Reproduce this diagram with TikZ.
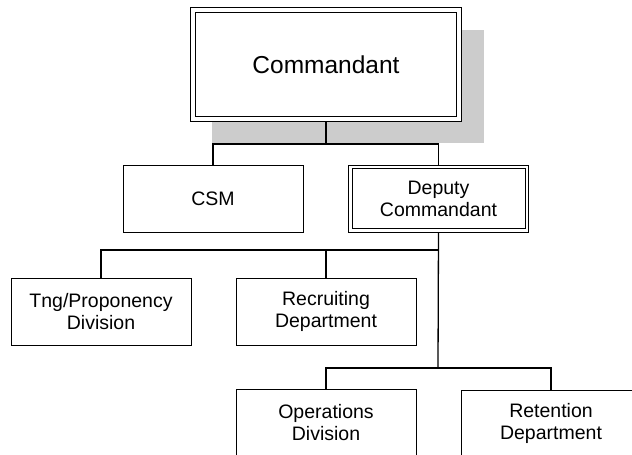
\documentclass[tikz,border=0pt]{standalone}
\usepackage{fontspec}
\setmainfont{Liberation Sans}
\begin{document}
\begin{tikzpicture}[x=1pt,y=-1pt,
  unit/.style={draw=black, line width=1pt, fill=white, minimum width=180pt, minimum height=67pt,
    inner sep=0pt, outer sep=0pt, align=center, font=\fontsize{19.5}{22}\selectfont},
  topunit/.style={unit, minimum width=271pt, minimum height=114pt,
    font=\fontsize{24.5}{28}\selectfont},
  innerline/.style={draw=black, line width=1pt},
  link/.style={draw=black, line width=1.3pt}]
\useasboundingbox (0,0) rectangle (632,455);
\clip (0,0) rectangle (632,455);
% shadow of the top box
\fill[black!20] (212,30) rectangle (484,143);
% nodes
\node[topunit] (cmd) at (326,64.5) {Commandant};
\node[unit] (csm) at (213,198.5) {CSM};
\node[unit] (dep) at (438.5,198.5) {Deputy\\Commandant};
\node[unit] (tng) at (101,311.5) {Tng/Proponency\\Division};
\node[unit] (rec) at (326,311.5) {Recruiting\\Department};
\node[unit] (ops) at (326,422.5) {Operations\\Division};
\node[unit] (ret) at (551,423.5) {Retention\\Department};
% inner frames of the double-bordered boxes
\draw[innerline] ([shift={(5,5)}]cmd.north west) rectangle ([shift={(-5,-5)}]cmd.south east);
\draw[innerline] ([shift={(3.5,3.5)}]dep.north west) rectangle ([shift={(-3.5,-3.5)}]dep.south east);
% junctions
\coordinate (j1) at (326,144);
\coordinate (j2) at (438,250);
\coordinate (j3) at (438,368);
% connectors
\draw[link] (cmd.south) -- (j1);
\draw[link] (csm.north) |- (j1) -| (dep.north);
\draw[link] (dep.south) -- (j3);
\draw[link] (tng.north) |- (j2);
\draw[link] (rec.north) -- (rec.north |- j2);
\draw[link] (ops.north) |- (j3) -| (ret.north);
\end{tikzpicture}
\end{document}
